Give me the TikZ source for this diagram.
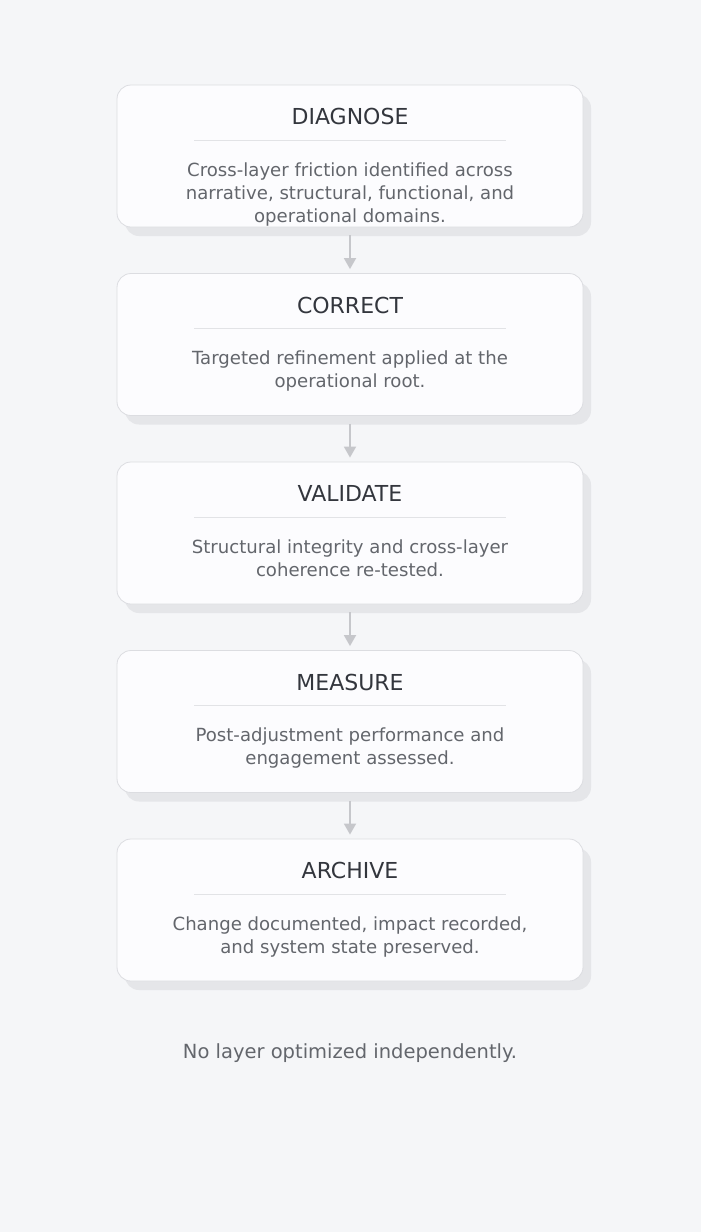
\documentclass[tikz,border=0pt]{standalone}
\usepackage{fontspec}
\setmainfont{DejaVu Sans}
\usetikzlibrary{arrows.meta}
\definecolor{bg}{HTML}{F5F6F8}
\definecolor{boxborder}{HTML}{DCDDE1}
\definecolor{boxfill}{HTML}{FCFCFE}
\definecolor{shadowc}{HTML}{E5E6E9}
\definecolor{sepc}{HTML}{E2E3E6}
\definecolor{titlec}{HTML}{33363D}
\definecolor{bodyc}{HTML}{63666C}
\definecolor{arrowc}{HTML}{C6C7CB}
\tikzset{
  stagebox/.style={draw=boxborder, line width=0.8pt, fill=boxfill, rounded corners=14pt, minimum width=466pt, minimum height=142pt, inner sep=0pt},
  stageshadow/.style={fill=shadowc, rounded corners=14pt, minimum width=466pt, minimum height=142pt, inner sep=0pt},
  titletext/.style={text=titlec, font=\fontsize{22}{26}\selectfont},
  bodytext/.style={text=bodyc, font=\fontsize{18.1}{23}\selectfont, align=center},
  flowarrow/.style={draw=arrowc, line width=1.8pt, -{Triangle[length=11pt,width=12pt]}},
}
\begin{document}
\begin{tikzpicture}[x=1pt,y=-1pt]
\fill[bg] (0,0) rectangle (701,1232);
\useasboundingbox (0,0) rectangle (701,1232);
\foreach \i/\t/\b in {1/DIAGNOSE/{Cross-layer friction identified across\\narrative, structural, functional, and\\operational domains.},
                      2/CORRECT/{Targeted refinement applied at the\\operational root.},
                      3/VALIDATE/{Structural integrity and cross-layer\\coherence re-tested.},
                      4/MEASURE/{Post-adjustment performance and\\engagement assessed.},
                      5/ARCHIVE/{Change documented, impact recorded,\\and system state preserved.}} {
  \pgfmathsetmacro{\ty}{85+(\i-1)*188.5}
  \node[stageshadow] (s\i) at (358,\ty+71+9) {};
  \node[stagebox] (b\i) at (350,\ty+71) {};
  \node[titletext] (t\i) at (350,\ty+31.5) {\t};
  \draw[sepc, line width=1pt] (194,\ty+55) coordinate (la\i) -- (506,\ty+55) coordinate (lb\i);
  \node[bodytext, anchor=north] (d\i) at (350,\ty+74) {\b};
}
\foreach \i [evaluate=\i as \j using int(\i+1)] in {1,2,3,4} {
  \draw[flowarrow] ([yshift=-8pt]b\i.south) -- ([yshift=4pt]b\j.north);
}
\node[text=bodyc, font=\fontsize{19.5}{23}\selectfont] (foot) at (350,1053) {No layer optimized independently.};
\end{tikzpicture}
\end{document}
